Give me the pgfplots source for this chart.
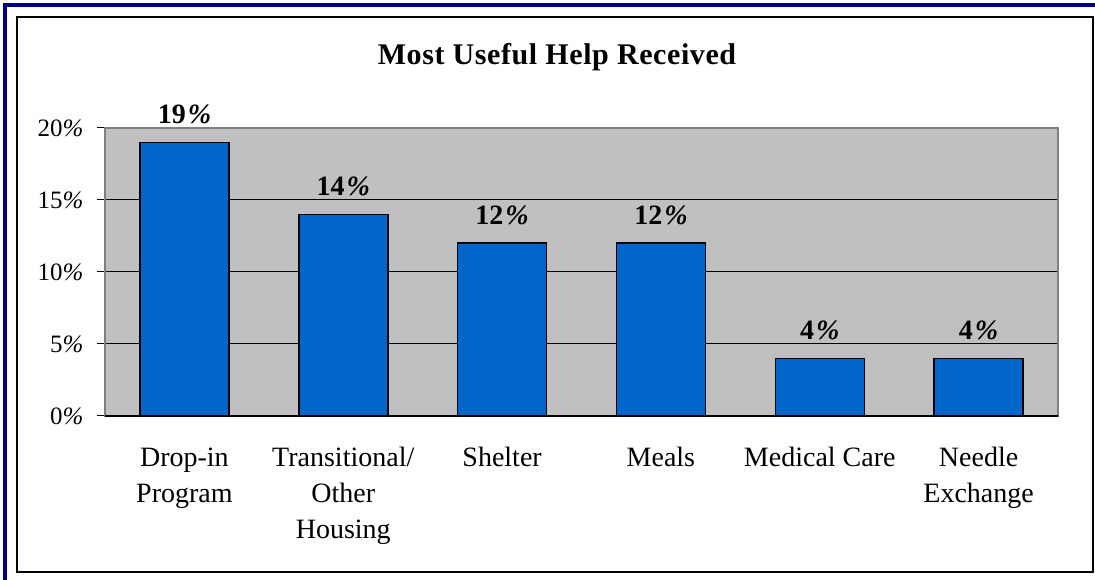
\documentclass[border=0pt]{standalone}
\usepackage{fontspec}
\setmainfont{Liberation Serif}
\newfontfamily\tsfont[LetterSpace=2]{Liberation Serif}
\usepackage{pgfplots}
\pgfplotsset{compat=1.18}
\definecolor{barblue}{HTML}{0066CC}
\definecolor{plotgray}{HTML}{C0C0C0}
\definecolor{edgegray}{HTML}{808080}
\definecolor{navy}{HTML}{000080}
\begin{document}
\begin{tikzpicture}[x=1pt,y=1pt]
\path[use as bounding box] (0,0) rectangle (1095,580);
\fill[white] (0,0) rectangle (1095,580);
\draw[navy, line width=4pt] (5.3,0) -- (5.3,574.7) -- (1095,574.7);
\draw[black, line width=2pt] (17,8) rectangle (1093,563);
\node[font=\tsfont\fontsize{30}{34}\selectfont\bfseries] at (557,523) {Most Useful Help Received};
\begin{axis}[
  at={(105pt,164pt)}, anchor=south west,
  scale only axis, width=953pt, height=288pt,
  xmin=-0.5, xmax=5.5, ymin=0, ymax=20,
  axis background/.style={fill=plotgray},
  axis line style={edgegray, line width=1.5pt},
  xtick={0,1,2,3,4,5},
  xticklabels={{Drop-in\\Program},{Transitional/\\Other\\Housing},{Shelter},{Meals},{Medical Care},{Needle\\Exchange}},
  x tick label style={align=center, font=\fontsize{28}{36}\selectfont, yshift=-20pt},
  major x tick style={draw=none},
  extra x ticks={-0.5,0.5,1.5,2.5,3.5,4.5,5.5},
  extra x tick labels={},
  extra x tick style={major tick length=8pt, tick align=outside, tick style={draw=black, line width=1pt}},
  ytick={0,5,10,15,20},
  yticklabels={0\textit{\%},5\textit{\%},10\textit{\%},15\textit{\%},20\textit{\%}},
  y tick label style={font=\fontsize{25}{28}\selectfont, xshift=-10pt},
  /pgf/number format/assume math mode=true,
  ymajorgrids, grid style={black, line width=1pt},
  major y tick style={black, line width=1pt},
  major tick length=8pt, tick align=outside,
  tick pos=left,
  clip=false,
]
\addplot[ybar, bar width=89pt, fill=barblue, draw=black, line width=1.5pt,
  nodes near coords={\textbf{\pgfmathprintnumber{\pgfplotspointmeta}\kern2pt\textit{\%}}},
  every node near coord/.append style={font=\fontsize{28}{32}\selectfont, anchor=south, yshift=14pt, text=black}]
  coordinates {(0,19) (1,14) (2,12) (3,12) (4,4) (5,4)};
\draw[black, line width=1.5pt] (axis cs:-0.5,0) -- (axis cs:5.5,0);
\end{axis}
\end{tikzpicture}
\end{document}
